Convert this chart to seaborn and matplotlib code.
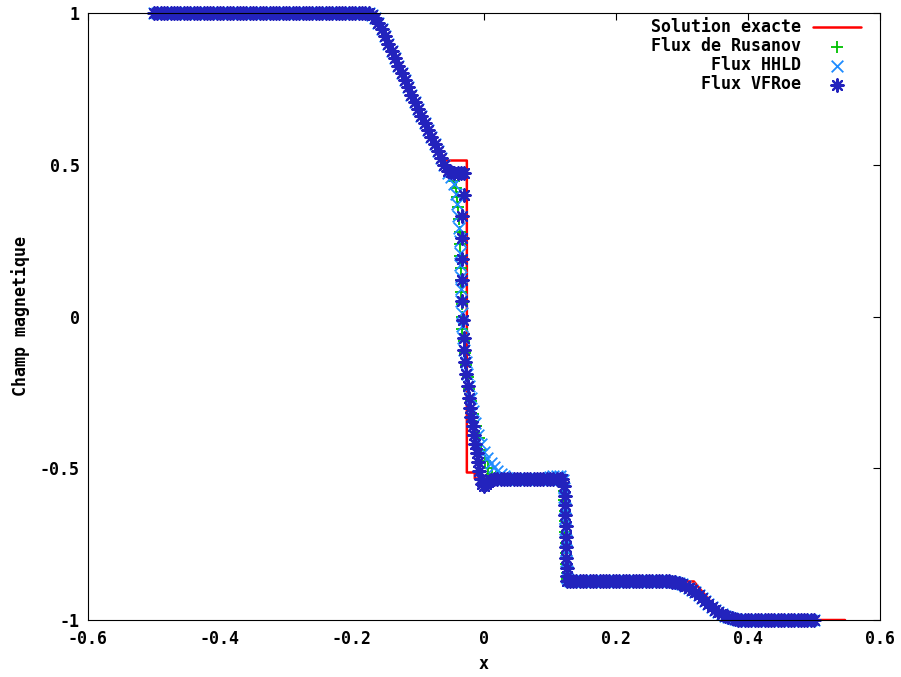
import matplotlib
matplotlib.use("Agg")
import matplotlib.pyplot as plt
import seaborn as sns

# solution exacte (trait rouge)
exact_x = [-0.500, -0.166, -0.140, -0.110, -0.080, -0.058, -0.026, -0.026,
           -0.014, -0.014, 0.124, 0.124, 0.318, 0.366, 0.547]
exact_y = [1.0, 1.0, 0.875, 0.730, 0.590, 0.514, 0.514, -0.514,
           -0.514, -0.534, -0.534, -0.873, -0.873, -1.0, -1.0]

# partie commune aux trois flux : plateau a 1 et detente de gauche
x_left = [-0.500, -0.495, -0.490, -0.485, -0.480, -0.475, -0.470, -0.465, -0.460, -0.455,
          -0.450, -0.445, -0.440, -0.435, -0.430, -0.425, -0.420, -0.415, -0.410, -0.405,
          -0.400, -0.395, -0.390, -0.385, -0.380, -0.375, -0.370, -0.365, -0.360, -0.355,
          -0.350, -0.345, -0.340, -0.335, -0.330, -0.325, -0.320, -0.315, -0.310, -0.305,
          -0.300, -0.295, -0.290, -0.285, -0.280, -0.275, -0.270, -0.265, -0.260, -0.255,
          -0.250, -0.245, -0.240, -0.235, -0.230, -0.225, -0.220, -0.215, -0.210, -0.205,
          -0.200, -0.195, -0.190, -0.185, -0.180, -0.175, -0.170, -0.165, -0.160, -0.155,
          -0.150, -0.145, -0.140, -0.135, -0.130, -0.125, -0.120, -0.115, -0.110, -0.105,
          -0.100, -0.095, -0.090, -0.085, -0.080, -0.075, -0.070, -0.065, -0.060]
b_left = [1.0, 1.0, 1.0, 1.0, 1.0, 1.0, 1.0, 1.0, 1.0, 1.0,
          1.0, 1.0, 1.0, 1.0, 1.0, 1.0, 1.0, 1.0, 1.0, 1.0,
          1.0, 1.0, 1.0, 1.0, 1.0, 1.0, 1.0, 1.0, 1.0, 1.0,
          1.0, 1.0, 1.0, 1.0, 1.0, 1.0, 1.0, 1.0, 1.0, 1.0,
          1.0, 1.0, 1.0, 1.0, 1.0, 1.0, 1.0, 1.0, 1.0, 1.0,
          1.0, 1.0, 1.0, 1.0, 1.0, 1.0, 1.0, 1.0, 1.0, 1.0,
          1.0, 1.0, 1.0, 1.0, 1.0, 0.999, 0.994, 0.983, 0.968, 0.947,
          0.923, 0.899, 0.875, 0.851, 0.827, 0.803, 0.779, 0.755, 0.731, 0.707,
          0.684, 0.660, 0.637, 0.614, 0.590, 0.567, 0.544, 0.521, 0.498]

# plateau commun a -0.534
x_mid = [0.020, 0.025, 0.030, 0.035, 0.040, 0.045, 0.050, 0.055, 0.060, 0.065,
         0.070, 0.075, 0.080, 0.085, 0.090, 0.095, 0.100, 0.105, 0.110, 0.115]
b_mid = [-0.534, -0.534, -0.534, -0.534, -0.534, -0.534, -0.534, -0.534, -0.534, -0.534,
         -0.534, -0.534, -0.534, -0.534, -0.534, -0.534, -0.534, -0.534, -0.534, -0.534]

# plateau a -0.873, detente de droite et plateau a -1
x_right = [0.130, 0.135, 0.140, 0.145, 0.150, 0.155, 0.160, 0.165, 0.170, 0.175,
           0.180, 0.185, 0.190, 0.195, 0.200, 0.205, 0.210, 0.215, 0.220, 0.225,
           0.230, 0.235, 0.240, 0.245, 0.250, 0.255, 0.260, 0.265, 0.270, 0.275,
           0.280, 0.285, 0.290, 0.295, 0.300, 0.305, 0.310, 0.315, 0.320, 0.325,
           0.330, 0.335, 0.340, 0.345, 0.350, 0.355, 0.360, 0.365, 0.370, 0.375,
           0.380, 0.385, 0.390, 0.395, 0.400, 0.405, 0.410, 0.415, 0.420, 0.425,
           0.430, 0.435, 0.440, 0.445, 0.450, 0.455, 0.460, 0.465, 0.470, 0.475,
           0.480, 0.485, 0.490, 0.495, 0.500]
b_right = [-0.873, -0.873, -0.873, -0.873, -0.873, -0.873, -0.873, -0.873, -0.873, -0.873,
           -0.873, -0.873, -0.873, -0.873, -0.873, -0.873, -0.873, -0.873, -0.873, -0.873,
           -0.873, -0.873, -0.873, -0.873, -0.873, -0.873, -0.873, -0.873, -0.873, -0.873,
           -0.873, -0.874, -0.876, -0.879, -0.883, -0.888, -0.894, -0.901, -0.909, -0.918,
           -0.928, -0.938, -0.948, -0.957, -0.966, -0.974, -0.981, -0.987, -0.991, -0.995,
           -0.997, -0.999, -1.0, -1.0, -1.0, -1.0, -1.0, -1.0, -1.0, -1.0,
           -1.0, -1.0, -1.0, -1.0, -1.0, -1.0, -1.0, -1.0, -1.0, -1.0,
           -1.0, -1.0, -1.0, -1.0, -1.0]

# zone de la discontinuite de contact, flux par flux
rus_cx = [-0.055, -0.050, -0.046, -0.043, -0.041, -0.039, -0.038, -0.037, -0.0365, -0.036,
          -0.0355, -0.035, -0.0345, -0.034, -0.0335, -0.033, -0.031, -0.029, -0.027, -0.025,
          -0.022, -0.019, -0.016, -0.012, -0.008, -0.004, 0.001, 0.006, 0.012, 0.018]
rus_cy = [0.476, 0.466, 0.448, 0.425, 0.395, 0.360, 0.320, 0.280, 0.240, 0.200,
          0.160, 0.120, 0.080, 0.040, 0.000, -0.040, -0.080, -0.120, -0.160, -0.200,
          -0.240, -0.280, -0.320, -0.360, -0.400, -0.440, -0.475, -0.500, -0.518, -0.528]
hlld_cx = [-0.055, -0.050, -0.046, -0.043, -0.041, -0.039, -0.038, -0.037, -0.0365, -0.036,
           -0.0355, -0.035, -0.0345, -0.034, -0.033, -0.032, -0.030, -0.028, -0.026, -0.023,
           -0.020, -0.017, -0.013, -0.009, -0.005, 0.000, 0.005, 0.010, 0.015, 0.020,
           0.025, 0.030, 0.035, 0.040]
hlld_cy = [0.472, 0.458, 0.435, 0.405, 0.370, 0.330, 0.290, 0.250, 0.210, 0.170,
           0.130, 0.090, 0.050, 0.010, -0.030, -0.070, -0.110, -0.150, -0.190, -0.230,
           -0.270, -0.310, -0.350, -0.390, -0.420, -0.445, -0.465, -0.482, -0.496, -0.508,
           -0.518, -0.526, -0.531, -0.534]
vfroe_cx = [-0.055, -0.050, -0.045, -0.040, -0.035, -0.030, -0.031, -0.0335, -0.034, -0.034,
            -0.0335, -0.033, -0.032, -0.031, -0.030, -0.029, -0.027, -0.025, -0.023, -0.021,
            -0.019, -0.017, -0.015, -0.013, -0.011, -0.009, -0.007, -0.005, -0.003, 0.000,
            0.003, 0.006, 0.010, 0.015]
vfroe_cy = [0.480, 0.476, 0.474, 0.474, 0.474, 0.473, 0.400, 0.330, 0.260, 0.190,
            0.120, 0.050, -0.010, -0.070, -0.110, -0.150, -0.190, -0.230, -0.270, -0.300,
            -0.330, -0.360, -0.390, -0.420, -0.450, -0.480, -0.510, -0.535, -0.553, -0.560,
            -0.553, -0.545, -0.539, -0.536]

# choc a x ~ 0.12, flux par flux
rus_jx = [0.1212, 0.1218, 0.1222, 0.1228, 0.1232, 0.1238, 0.1242, 0.1248, 0.1252, 0.1258]
rus_jy = [-0.575, -0.605, -0.640, -0.675, -0.710, -0.745, -0.780, -0.815, -0.845, -0.865]
hlld_jx = [0.100, 0.105, 0.110, 0.115, 0.119, 0.1208, 0.1215, 0.1220, 0.1226, 0.1232,
           0.1237, 0.1242, 0.1247, 0.1252, 0.1258]
hlld_jy = [-0.528, -0.527, -0.526, -0.527, -0.540, -0.565, -0.595, -0.630, -0.665, -0.700,
           -0.735, -0.770, -0.805, -0.840, -0.862]
vfroe_jx = [0.118, 0.1215, 0.1220, 0.1225, 0.1230, 0.1235, 0.1240, 0.1243, 0.1246, 0.1250,
            0.1255, 0.1260]
vfroe_jy = [-0.536, -0.560, -0.590, -0.620, -0.655, -0.690, -0.725, -0.760, -0.795, -0.830,
            -0.855, -0.870]

xticks = [-0.6, -0.4, -0.2, 0.0, 0.2, 0.4, 0.6]
xtick_labels = ['-0.6', '-0.4', '-0.2', '0', '0.2', '0.4', '0.6']
yticks = [-1.0, -0.5, 0.0, 0.5, 1.0]
ytick_labels = ['-1', '-0.5', '0', '0.5', '1']

sns.set_style('white')
plt.rcParams['font.family'] = ['DejaVu Sans Mono', 'DejaVu Sans']
plt.rcParams['font.weight'] = 'bold'
plt.rcParams['axes.unicode_minus'] = False
plt.rcParams['text.color'] = 'black'
plt.rcParams['axes.labelcolor'] = 'black'

fig = plt.figure(figsize=(9.01, 6.77), dpi=100)
ax = fig.add_axes([88 / 901, 57 / 677, 792 / 901, 607 / 677])

rus_x = x_left + rus_cx + x_mid + rus_jx + x_right
rus_y = b_left + rus_cy + b_mid + rus_jy + b_right
hlld_x = x_left + hlld_cx + x_mid + hlld_jx + x_right
hlld_y = b_left + hlld_cy + b_mid + hlld_jy + b_right
vfroe_x = x_left + vfroe_cx + x_mid + vfroe_jx + x_right
vfroe_y = b_left + vfroe_cy + b_mid + vfroe_jy + b_right

# la solution exacte est tracee sous les points, comme dans gnuplot
sns.lineplot(x=exact_x, y=exact_y, sort=False, estimator=None, color='#ff0000',
             linewidth=1.8, ax=ax, label='Solution exacte', zorder=1)
sns.scatterplot(x=rus_x, y=rus_y, marker='+', s=80, color='#00c000', linewidth=1.3,
                clip_on=False, ax=ax, label='Flux de Rusanov', zorder=2)
sns.scatterplot(x=hlld_x, y=hlld_y, marker='x', s=70, color='#1e8cff', linewidth=1.3,
                clip_on=False, ax=ax, label='Flux HHLD', zorder=2)
sns.scatterplot(x=vfroe_x, y=vfroe_y, marker=(8, 2, 0), s=80, color='#2323bd', linewidth=1.6,
                clip_on=False, ax=ax, label='Flux VFRoe', zorder=2)

ax.set_xlim(-0.6, 0.6)
ax.set_ylim(-1, 1)
ax.set_xticks(xticks)
ax.set_xticklabels(xtick_labels)
ax.set_yticks(yticks)
ax.set_yticklabels(ytick_labels)
ax.tick_params(direction='in', length=5, width=0.8, top=True, right=True,
               labelsize=12, colors='black')
ax.tick_params(axis='x', pad=7)
ax.tick_params(axis='y', pad=6)
for sp in ax.spines.values():
    sp.set_color('black')
    sp.set_linewidth(0.8)

ax.set_xlabel('x', fontsize=12, fontweight='bold', labelpad=5)
ax.set_ylabel('Champ magnetique', fontsize=12, fontweight='bold', labelpad=7)

leg = ax.legend(loc='upper right', bbox_to_anchor=(0.976, 0.991), frameon=False,
                markerfirst=False, handlelength=2.9, scatterpoints=1, fontsize=12,
                borderaxespad=0, borderpad=0, labelspacing=0.06, handletextpad=0.7)
for t in leg.get_texts():
    t.set_fontweight('bold')
    t.set_color('black')

plt.savefig('out.png', dpi=100)
